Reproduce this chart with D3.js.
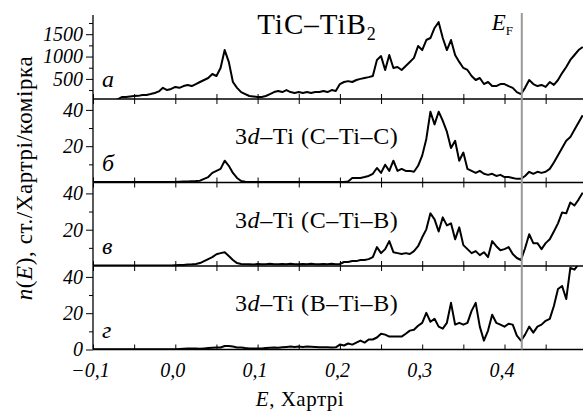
<!DOCTYPE html>
<html>
<head>
<meta charset="utf-8">
<script src="https://cdn.jsdelivr.net/npm/d3@7"></script>
<style>
  body { margin: 0; background: #fff; }
  text { font-family: "Liberation Serif", "Times New Roman", serif; fill: #000; }
</style>
</head>
<body>
<div class="canvas"></div>
<script>
// energy grid, Hartree (step 0.005)
const energy = d3.range(0, 120).map(i => -0.1 + i * 0.005);

// total DOS, TiC-TiB2
const dosTotal = [
  0, 0, 0, 0, 0, 20, 40, 95, 95, 105,
  117, 120, 140, 140, 160, 185, 220, 300, 250, 275,
  320, 300, 340, 365, 340, 385, 430, 475, 520, 610,
  565, 745, 1145, 880, 430, 300, 205, 160, 117, 105,
  95, 95, 117, 160, 205, 230, 205, 250, 205, 185,
  205, 185, 205, 185, 205, 205, 230, 205, 250, 230,
  385, 430, 450, 430, 475, 500, 520, 540, 565, 925,
  1010, 700, 1035, 745, 765, 700, 790, 880, 970, 1235,
  1145, 1370, 1415, 1640, 1770, 1415, 1145, 1370, 1035, 880,
  745, 700, 565, 475, 520, 385, 430, 340, 340, 385,
  385, 340, 300, 205, 160, 300, 475, 385, 340, 365,
  320, 430, 365, 475, 630, 765, 925, 1035, 1145, 1215
];

// 3d-Ti (C-Ti-C)
const dosCTiC = [
  0.3, 0.3, 0.3, 0.3, 0.3, 0.3, 0.3, 0.3, 0.3, 0.3,
  0.3, 0.3, 0.3, 0.3, 0.3, 0.3, 0.3, 0.3, 0.3, 0.3,
  0.3, 0.4, 0.5, 0.6, 0.7, 0.8, 1, 2, 3, 5.3,
  6.4, 7.5, 12, 9.2, 5.3, 2.5, 0.8, 0.4, 0.3, 0.3,
  0.3, 0.3, 0.3, 0.3, 0.3, 0.3, 0.3, 0.3, 0.3, 0.3,
  0.3, 0.3, 0.3, 0.3, 0.3, 0.3, 0.3, 0.3, 0.3, 0.3,
  0.3, 0.3, 0.6, 2.5, 2.5, 2.5, 3, 3.6, 4.8, 8,
  5.3, 9.8, 6.4, 12, 6.4, 7.5, 6.4, 6.4, 5.9, 9.2,
  14.8, 24, 39, 32, 39, 34, 28, 19, 23, 12,
  16.5, 7.5, 6.4, 5.3, 6.4, 4.8, 4.2, 4.8, 3.6, 4.2,
  3, 3, 2.5, 2, 2, 3.6, 5.9, 4.8, 5.9, 5.3,
  5.9, 7.5, 11, 15, 19, 23, 25, 29, 33, 37
];

// 3d-Ti (C-Ti-B)
const dosCTiB = [
  0.3, 0.3, 0.3, 0.3, 0.3, 0.3, 0.3, 0.3, 0.3, 0.3,
  0.3, 0.3, 0.3, 0.3, 0.3, 0.3, 0.3, 0.3, 0.3, 0.3,
  0.4, 0.5, 0.6, 0.8, 0.9, 1.1, 1.6, 2.7, 3.8, 4.9,
  6.5, 7.1, 7.6, 5.5, 3.3, 1.6, 1.1, 0.9, 1.0, 0.8,
  1.1, 0.9, 1.0, 1.2, 0.9, 1.0, 1.1, 0.9, 1.2, 1.0,
  0.9, 1.1, 1.0, 1.2, 0.9, 1.0, 1.1, 1.0, 1.2, 1.0,
  1.1, 2.2, 2.2, 2.7, 2.7, 3.3, 3.3, 3.8, 4.9, 10.4,
  7.1, 9.3, 13.7, 7.6, 7.1, 6.6, 7.1, 6.6, 8.2, 10.9,
  15.8, 20.2, 29, 25.7, 19, 26.8, 22.4, 23.5, 14.7, 21.3,
  11.5, 9.3, 7.1, 8.2, 6, 7.6, 4.9, 13.7, 10.9, 8.7,
  9.3, 10.4, 6.6, 4.4, 3.3, 9.8, 17.5, 12.6, 12.6, 9.3,
  12.6, 14.7, 19, 23.5, 29.5, 29, 35, 33.3, 36.6, 40.4
];

// 3d-Ti (B-Ti-B)
const dosBTiB = [
  0.2, 0.2, 0.2, 0.2, 0.2, 0.2, 0.2, 0.2, 0.2, 0.2,
  0.2, 0.2, 0.2, 0.2, 0.2, 0.2, 0.2, 0.2, 0.2, 0.2,
  0.2, 0.3, 0.4, 0.5, 0.5, 0.6, 0.4, 0.6, 0.8, 1,
  1.1, 1.1, 1.9, 1.9, 1.6, 1.1, 1.1, 0.8, 0.6, 0.5,
  0.5, 0.6, 0.8, 1.0, 1.1, 1.0, 1.2, 1.4, 1.6, 1.4,
  1.6, 1.4, 1.6, 1.5, 1.4, 1.2, 1.3, 1.2, 1.1, 1.2,
  2.7, 2.2, 3.3, 2.7, 3.8, 4.9, 3.8, 5.5, 5.5, 6.6,
  8.7, 8.2, 7.1, 7.1, 7.1, 7.1, 8.7, 10.4, 10.9, 13.1,
  14.7, 20.2, 15.3, 16.9, 12.6, 11.5, 14.7, 25.7, 13.7, 14.7,
  13.7, 14.7, 21.3, 25.7, 12.6, 4.9, 10.4, 19.1, 14.7, 13.7,
  12.6, 14.2, 13.7, 7.6, 4.9, 8.2, 12.6, 9.3, 12.6, 13.7,
  15.8, 16.9, 24, 33.3, 35, 27.8, 45, 44, 47, 47
];

const panelLetters = ["а", "б", "в", "г"];
const panelNotes = [null, "(C–Ti–C)", "(C–Ti–B)", "(B–Ti–B)"];
const fermiEnergy = 0.421;
const xTicks = [-0.1, 0.0, 0.1, 0.2, 0.3, 0.4];
const xMinorTicks = [-0.05, 0.05, 0.15, 0.25, 0.35, 0.45];
const yTicksTotal = [500, 1000, 1500];
const yMinorTotal = [250, 750, 1250, 1750];
const yTicksPart = [20, 40];
const yMinorPart = [10, 30];

const W = 583, H = 412;
const left = 93, right = 583;
const bands = [[15, 99], [99, 182.5], [182.5, 266], [266, 349.5]];
const serif = '"Liberation Serif", "Times New Roman", serif';

const svg = d3.select('.canvas')
    .append('svg')
    .attr('width', W)
    .attr('height', H);

const x = d3.scaleLinear()
    .domain([-0.1, -0.1 + (right - left) / 823])
    .range([left, right]);

const locale = d3.formatLocale({ decimal: ",", thousands: "", grouping: [3], currency: ["", ""], minus: "\u2212" });
const fmtX = locale.format(".1f");

const series = [dosTotal, dosCTiC, dosCTiB, dosBTiB];
const yScales = bands.map((b, i) => i === 0
    ? d3.scaleLinear().domain([50, 1930]).range([b[1], b[0]])
    : d3.scaleLinear().domain([0, 46]).range([b[1], b[0]]));

series.forEach((vals, i) => {
    const y = yScales[i];
    const [top, bot] = bands[i];

    svg.append('clipPath')
        .attr('id', 'clip' + i)
        .append('rect')
        .attr('x', left).attr('y', top)
        .attr('width', right - left).attr('height', bot - top);

    const line = d3.line()
        .x((d, j) => x(energy[j]))
        .y(d => y(d));

    svg.append('path')
        .datum(vals)
        .attr('clip-path', `url(#clip${i})`)
        .attr('fill', 'none')
        .attr('stroke', '#000')
        .attr('stroke-width', 2)
        .attr('stroke-linejoin', 'round')
        .attr('d', line);

    // y axis ticks
    const major = i === 0 ? yTicksTotal : yTicksPart;
    const minor = i === 0 ? yMinorTotal : yMinorPart;
    svg.append('g')
        .attr('transform', `translate(${left},0)`)
        .call(d3.axisLeft(y).tickValues(major).tickSize(7).tickPadding(3).tickFormat(d3.format('d')))
        .attr('font-family', serif)
        .attr('font-size', 20)
        .attr('font-style', 'italic')
        .call(g => g.select('.domain').remove());
    svg.append('g')
        .attr('transform', `translate(${left},0)`)
        .call(d3.axisLeft(y).tickValues(minor).tickSize(4).tickFormat(''))
        .call(g => g.select('.domain').remove());

    // x ticks along the bottom of the panel (inward)
    svg.append('g')
        .attr('transform', `translate(0,${bot})`)
        .call(d3.axisBottom(x).tickValues(xTicks.concat(xMinorTicks)).tickSize(-5).tickFormat(''))
        .call(g => g.select('.domain').remove());
    // and along the top of lower panels
    if (i > 0) {
        svg.append('g')
            .attr('transform', `translate(0,${top})`)
            .call(d3.axisTop(x).tickValues(xTicks.concat(xMinorTicks)).tickSize(-5).tickFormat(''))
            .call(g => g.select('.domain').remove());
    }

    // horizontal frame line
    svg.append('line')
        .attr('x1', left).attr('x2', right)
        .attr('y1', bot).attr('y2', bot)
        .attr('stroke', '#000').attr('stroke-width', 1.3);

    // panel letter
    svg.append('text')
        .attr('x', 102)
        .attr('y', bot - 12)
        .attr('font-size', 24)
        .attr('font-style', 'italic')
        .text(panelLetters[i]);

    if (panelNotes[i]) {
        const t = svg.append('text')
            .attr('x', 235)
            .attr('y', top + 45)
            .attr('font-size', 24)
            .attr('letter-spacing', 0.6);
        t.append('tspan').text('3');
        t.append('tspan').attr('font-style', 'italic').text('d');
        t.append('tspan').text('–Ti ' + panelNotes[i]);
    }
});

// zero label on last panel
svg.append('g')
    .attr('transform', `translate(${left},0)`)
    .call(d3.axisLeft(yScales[3]).tickValues([0]).tickSize(7).tickPadding(3).tickFormat(d3.format('d')))
    .attr('font-family', serif)
    .attr('font-size', 20)
    .attr('font-style', 'italic')
    .call(g => g.select('.domain').remove());

// x tick labels
svg.append('g')
    .attr('transform', `translate(0,${bands[3][1]})`)
    .call(d3.axisBottom(x).tickValues(xTicks).tickSize(0).tickPadding(13).tickFormat(fmtX))
    .attr('font-family', serif)
    .attr('font-size', 20)
    .attr('font-style', 'italic')
    .call(g => g.select('.domain').remove())
    .call(g => g.selectAll('text').attr('dx', -3));

// left axis line
svg.append('line')
    .attr('x1', left).attr('x2', left)
    .attr('y1', bands[0][0]).attr('y2', bands[3][1])
    .attr('stroke', '#000').attr('stroke-width', 1.3);

// Fermi level
svg.append('line')
    .attr('x1', x(fermiEnergy)).attr('x2', x(fermiEnergy))
    .attr('y1', 13).attr('y2', bands[3][1])
    .attr('stroke', '#999').attr('stroke-width', 2);

const ef = svg.append('text')
    .attr('x', x(fermiEnergy) - 30)
    .attr('y', 30)
    .attr('font-size', 23);
ef.append('tspan').attr('font-style', 'italic').text('E');
ef.append('tspan').attr('font-size', 13).attr('dy', 5).text('F');

// title
const title = svg.append('text')
    .attr('x', 317)
    .attr('y', 34)
    .attr('text-anchor', 'middle')
    .attr('font-size', 29)
    .attr('letter-spacing', 1);
title.append('tspan').text('TiC–TiB');
title.append('tspan').attr('font-size', 18).attr('dy', 6).text('2');

// axis titles
const xl = svg.append('text')
    .attr('x', 300)
    .attr('y', 406)
    .attr('text-anchor', 'middle')
    .attr('font-size', 21)
    .attr('letter-spacing', 0.5);
xl.append('tspan').attr('font-style', 'italic').text('E');
xl.append('tspan').text(', Хартрі');

const yl = svg.append('text')
    .attr('transform', 'translate(32,178) rotate(-90)')
    .attr('text-anchor', 'middle')
    .attr('font-size', 23)
    .attr('letter-spacing', 0.6);
yl.append('tspan').attr('font-style', 'italic').text('n');
yl.append('tspan').text('(');
yl.append('tspan').attr('font-style', 'italic').text('E');
yl.append('tspan').text('), ст./Хартрі/комірка');
</script>
</body>
</html>
